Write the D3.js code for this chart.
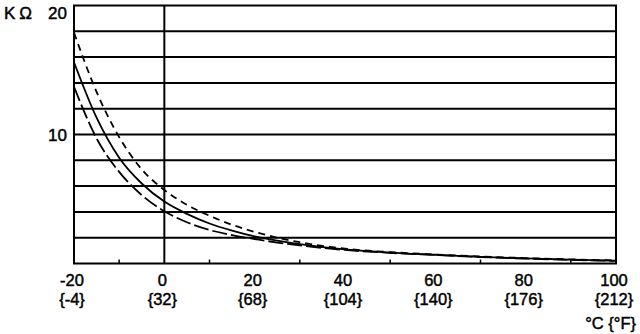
<!DOCTYPE html>
<html>
<head>
<meta charset="utf-8">
<script src="https://cdn.jsdelivr.net/npm/d3@7"></script>
<style>
  body { margin: 0; background: #fff; }
  text { font-family: "Liberation Sans", Arial, sans-serif; fill: #000; stroke: #000; stroke-width: 0.45; }
</style>
</head>
<body>
<svg width="640" height="334"></svg>
<script>
// temperatures in °C
const temps = [-20, -15, -10, -5, 0, 5, 10, 15, 20, 25, 30, 40, 50, 60, 70, 80, 90, 100];
// resistance in kΩ
const upperValues = [17.9, 13.3, 9.8, 7.3, 5.7, 4.55, 3.7, 3.0, 2.45, 2.0, 1.65, 1.15, 0.88, 0.7, 0.54, 0.42, 0.32, 0.24];
const nominalValues = [15.6, 11.3, 8.2, 6.2, 4.8, 3.85, 3.1, 2.55, 2.1, 1.78, 1.5, 1.1, 0.85, 0.68, 0.52, 0.4, 0.3, 0.22];
const lowerValues = [13.7, 9.7, 7.1, 5.3, 4.05, 3.2, 2.6, 2.2, 1.9, 1.62, 1.4, 1.05, 0.82, 0.66, 0.5, 0.38, 0.28, 0.2];

const xTicks = [-20, 0, 20, 40, 60, 80, 100];
const xTickF = ["{-4}", "{32}", "{68}", "{104}", "{140}", "{176}", "{212}"];
const minorTicks = [-10, 10, 30, 50, 70, 90];
const gridValues = [2, 4, 6, 8, 10, 12, 14, 16, 18];
const yLabels = [20, 10];

const svg = d3.select("svg");
const x = d3.scaleLinear().domain([-20, 100]).range([74, 616]);
const y = d3.scaleLinear().domain([0, 20]).range([263.5, 5.5]);

// horizontal grid
svg.append("g")
  .selectAll("line")
  .data(gridValues)
  .enter()
  .append("line")
  .attr("x1", x(-20))
  .attr("x2", x(100))
  .attr("y1", (d) => y(d))
  .attr("y2", (d) => y(d))
  .attr("stroke", "black")
  .attr("stroke-width", 2);

// 0 °C line
svg.append("line")
  .attr("x1", x(0))
  .attr("x2", x(0))
  .attr("y1", y(20))
  .attr("y2", y(0))
  .attr("stroke", "black")
  .attr("stroke-width", 2);

// small ticks along the bottom
svg.append("g")
  .selectAll("line")
  .data(minorTicks)
  .enter()
  .append("line")
  .attr("x1", (d) => x(d))
  .attr("x2", (d) => x(d))
  .attr("y1", y(0))
  .attr("y2", y(0) - 4)
  .attr("stroke", "black")
  .attr("stroke-width", 1.5);

// frame
svg.append("rect")
  .attr("x", x(-20))
  .attr("y", y(20))
  .attr("width", x(100) - x(-20))
  .attr("height", y(0) - y(20))
  .attr("fill", "none")
  .attr("stroke", "black")
  .attr("stroke-width", 2);

// curves
const line = d3.line()
  .x((d) => x(d[0]))
  .y((d) => y(d[1]))
  .curve(d3.curveMonotoneX);

const series = [
  { values: upperValues, dash: "7,5" },
  { values: nominalValues, dash: null },
  { values: lowerValues, dash: "15,4" },
];

svg.append("g")
  .selectAll("path")
  .data(series)
  .enter()
  .append("path")
  .attr("d", (s) => line(temps.map((t, i) => [t, s.values[i]])))
  .attr("fill", "none")
  .attr("stroke", "black")
  .attr("stroke-width", 1.8)
  .attr("stroke-dasharray", (s) => s.dash);

// x labels
svg.append("g")
  .selectAll("text")
  .data(xTicks)
  .enter()
  .append("text")
  .attr("x", (d) => x(d) - 2)
  .attr("y", 286)
  .attr("text-anchor", "middle")
  .attr("font-size", 16.5)
  .text((d) => d);

svg.append("g")
  .selectAll("text")
  .data(xTicks)
  .enter()
  .append("text")
  .attr("x", (d) => x(d) - 2)
  .attr("y", 305)
  .attr("text-anchor", "middle")
  .attr("font-size", 16.5)
  .text((d, i) => xTickF[i]);

svg.append("text")
  .attr("x", 636)
  .attr("y", 329)
  .attr("text-anchor", "end")
  .attr("font-size", 16.5)
  .text("°C {°F}");

// y labels
svg.append("g")
  .selectAll("text")
  .data(yLabels)
  .enter()
  .append("text")
  .attr("x", 67)
  .attr("y", (d) => (d === 20 ? 19 : y(d) + 6))
  .attr("text-anchor", "end")
  .attr("font-size", 17)
  .text((d) => d);

svg.append("text")
  .attr("x", 4)
  .attr("y", 19)
  .attr("font-size", 17)
  .attr("letter-spacing", 4)
  .text("KΩ");
</script>
</body>
</html>
